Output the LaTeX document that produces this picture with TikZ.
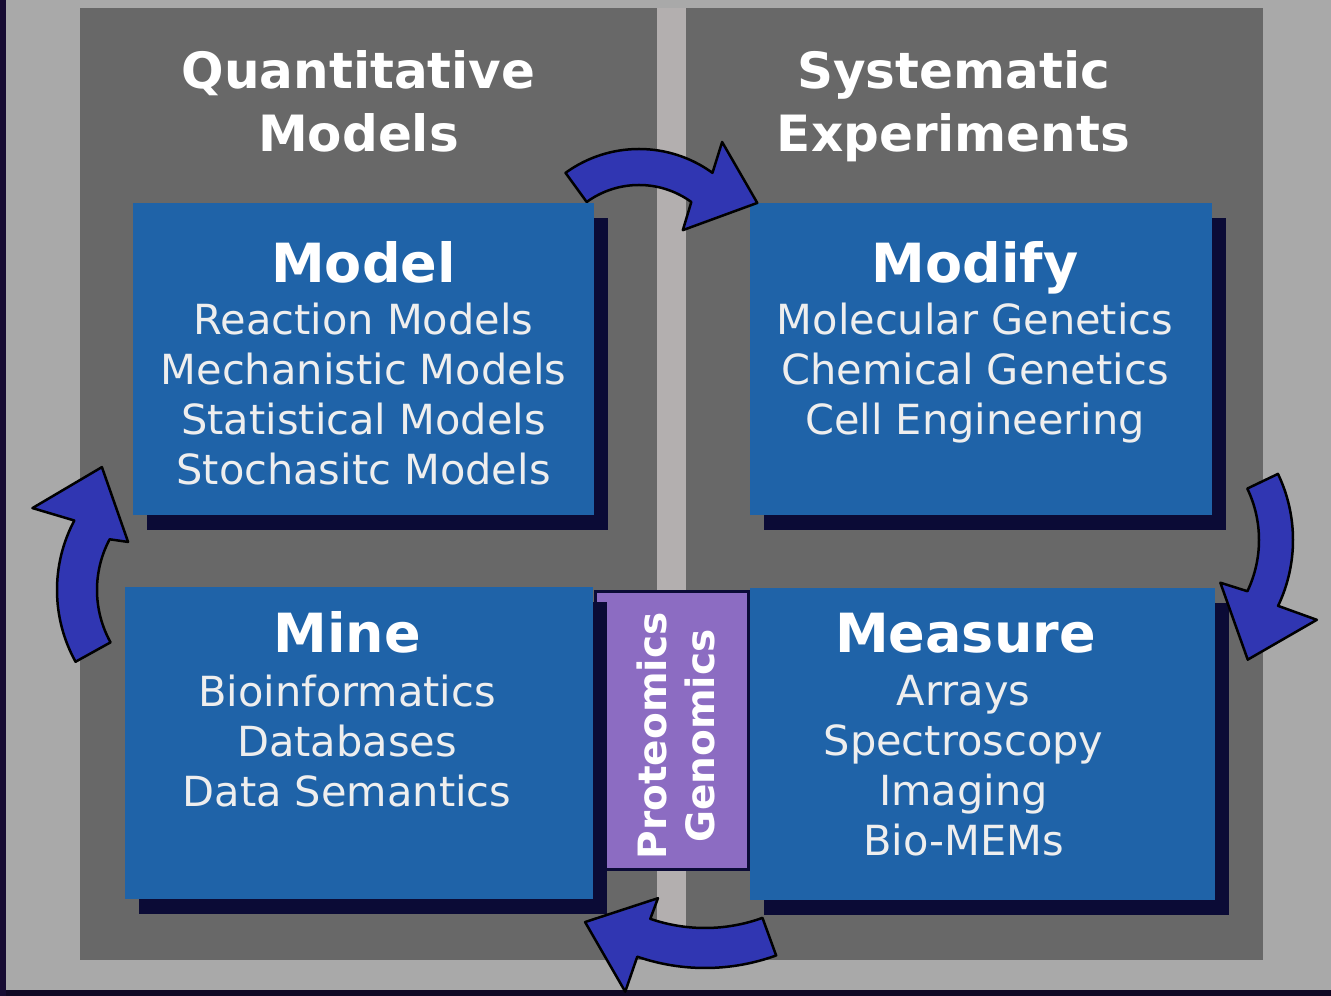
\documentclass[tikz,border=0pt]{standalone}
\usepackage{fontspec}
\setmainfont{DejaVu Sans}
\usetikzlibrary{positioning,shadows}

\definecolor{bggray}{HTML}{A9A9A9}
\definecolor{panelgray}{HTML}{686868}
\definecolor{gapgray}{HTML}{B3AFAF}
\definecolor{boxblue}{HTML}{1F63A8}
\definecolor{shadownavy}{HTML}{0B0B36}
\definecolor{omicspurple}{HTML}{8C6CC2}
\definecolor{arrowblue}{HTML}{3036B2}
\definecolor{edgepurple}{HTML}{170C33}
\definecolor{bodywhite}{HTML}{EEEEEE}

\tikzset{
    panel/.style = {fill=panelgray, inner sep=0pt, minimum width=577pt, minimum height=952pt},
    panel-title/.style = {text=white, align=center, inner sep=0pt, font=\fontsize{50}{63}\selectfont\bfseries},
    blue-box/.style = {fill=boxblue, inner sep=0pt, minimum height=312pt,
        drop shadow={shadow xshift=14pt, shadow yshift=-15pt, fill=shadownavy, opacity=1}},
    box-title/.style = {text=white, inner sep=0pt, font=\fontsize{54}{60}\selectfont\bfseries},
    box-body/.style = {text=bodywhite, align=center, inner sep=0pt, font=\fontsize{41.5}{50}\selectfont},
    omics-box/.style = {fill=omicspurple, draw=shadownavy, line width=3pt, inner sep=0pt,
        minimum width=153pt, minimum height=278pt},
    omics-text/.style = {text=white, align=center, inner sep=0pt, font=\fontsize{39}{48}\selectfont\bfseries},
    cycle-arrow/.style = {fill=arrowblue, draw=black, line width=2.5pt, line join=round},
}

% curved block arrow: centre, radius, half width, tail angle, base angle, outer barb, tip, inner barb
\newcommand{\cyclearrow}[8]{%
    \draw[cycle-arrow, shift={#1}] (#4:{#2+#3}) arc[start angle=#4, end angle=#5, radius={#2+#3}]
        -- #6 -- #7 -- #8 -- (#5:{#2-#3}) arc[start angle=#5, end angle=#4, radius={#2-#3}] -- cycle;}

\begin{document}
\begin{tikzpicture}[x=1pt, y=1pt]
\useasboundingbox (0,0) rectangle (1331,996);
\fill[bggray] (0,0) rectangle (1331,996);
\fill[edgepurple] (0,0) rectangle (6,996);
\fill[edgepurple!70!black] (6,0) rectangle (1331,6);
\fill[gapgray] (657,36) rectangle (686,988);

% two columns
\node[panel] (leftpanel) at (368.5,512) {};
\node[panel] (rightpanel) at (974.5,512) {};
\node[panel-title, below=43pt of leftpanel.north, xshift=-10pt] (quanttitle) {Quantitative\\Models};
\node[panel-title, below=43pt of rightpanel.north, xshift=-21pt] (systitle) {Systematic\\Experiments};

% middle strip
\node[omics-box] (omics) at (671.5,265) {};
\node[omics-text, rotate=90] (omicslabel) at ([xshift=4pt, yshift=-5pt]omics.center) {Proteomics\\Genomics};

% the four boxes
\node[blue-box, minimum width=461pt] (model) at (363.5,637) {};
\node[box-title, below=38pt of model.north] (modeltitle) {Model};
\node[box-body, below=100pt of model.north] (modelbody) {Reaction Models\\Mechanistic Models\\Statistical Models\\Stochasitc Models};

\node[blue-box, minimum width=462pt] (modify) at (981,637) {};
\node[box-title, below=38pt of modify.north, xshift=-6pt] (modifytitle) {Modify};
\node[box-body, below=100pt of modify.north, xshift=-6pt] (modifybody) {Molecular Genetics\\Chemical Genetics\\Cell Engineering};

\node[blue-box, minimum width=468pt] (mine) at (359,252.5) {};
\node[box-title, below=24pt of mine.north, xshift=-12pt] (minetitle) {Mine};
\node[box-body, below=87pt of mine.north, xshift=-12pt] (minebody) {Bioinformatics\\Databases\\Data Semantics};

\node[blue-box, minimum width=465pt] (measure) at (982.5,252) {};
\node[box-title, below=25pt of measure.north, xshift=-17pt] (measuretitle) {Measure};
\node[box-body, below=87pt of measure.north, xshift=-19pt] (measurebody) {Arrays\\Spectroscopy\\Imaging\\Bio-MEMs};

% cycle arrows
\cyclearrow{(639,722)}{107}{18}{126}{54}{(57.8:156)}{(31:138)}{(45:62)}
\cyclearrow{(1140,456)}{136}{17}{25.6}{-25.5}{(-24.3:194)}{(-48:161)}{(-28:91)}
\cyclearrow{(705,236)}{188}{20}{-70}{-109}{(-109:245)}{(-126.5:201.6)}{(-108.8:146)}
\cyclearrow{(205,406)}{128}{20}{209}{152}{(154.6:191)}{(130:160.4)}{(148:90.7)}
\end{tikzpicture}
\end{document}
